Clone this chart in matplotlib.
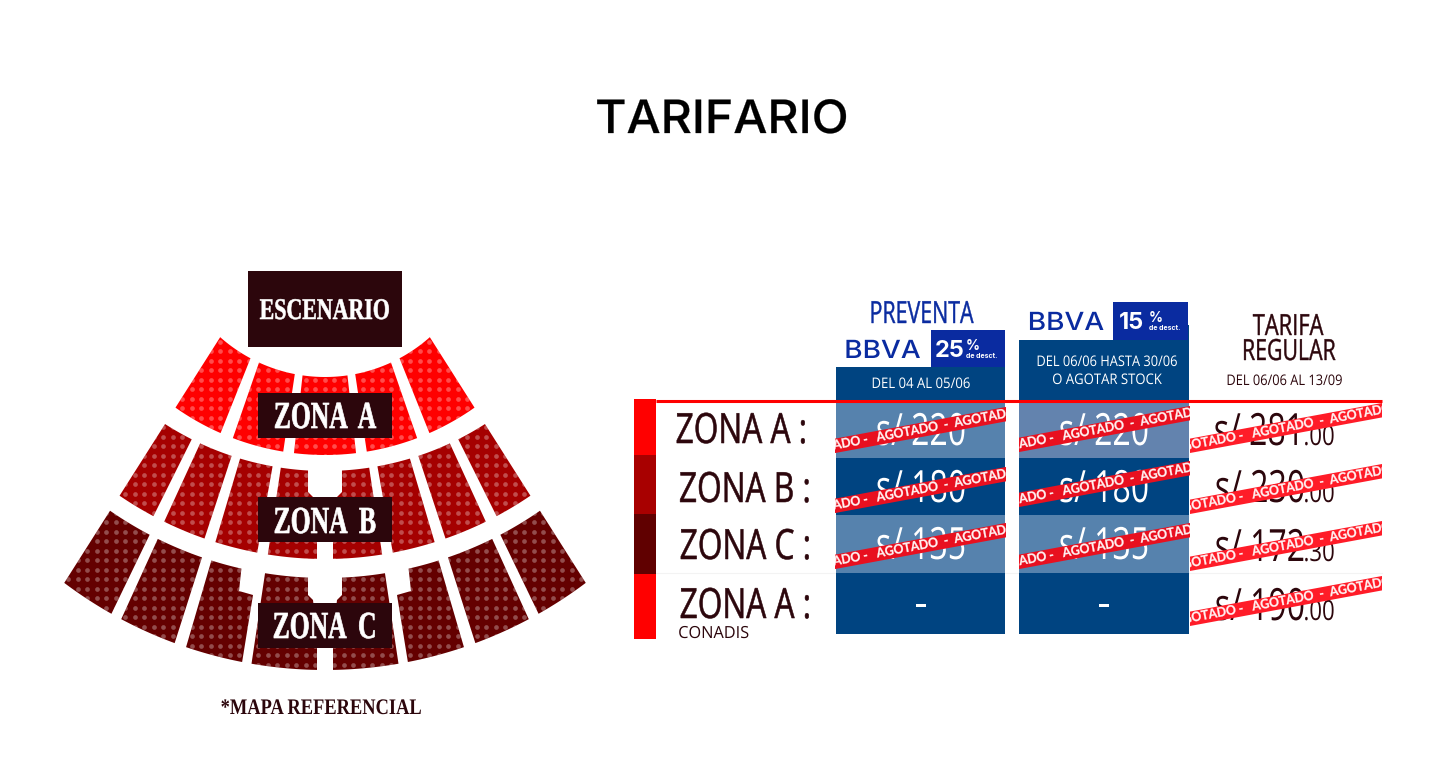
"""Tarifario: seating map on the left, price table on the right."""
import numpy as np
import matplotlib
matplotlib.use("Agg")
import matplotlib.pyplot as plt
from matplotlib.patches import Polygon, Rectangle
from matplotlib.patheffects import AbstractPathEffect
from matplotlib.transforms import Affine2D

# --- data ---
zone_names = ["ZONA  A", "ZONA  B", "ZONA  C"]
row_labels = ["ZONA A :", "ZONA B :", "ZONA C :", "ZONA A :"]
preventa_prices = ["s/ 220", "s/ 180", "s/ 135", "-"]
stock_prices = ["s/ 220", "s/ 180", "s/ 135", "-"]
regular_prices = ["s/ 281", "s/ 230", "s/ 172", "s/ 190"]
regular_cents = [".00", ".00", ".30", ".00"]
ribbon_short = "AGOTADO -   AGOTADO  -  AGOTADO"

# seat blocks left of the aisle, angles in degrees from the vertical
blocks_a = [(32.4, 21.8), (19.1, 8.5)]
blocks_b = [(32.4, 26.5), (24.7, 18.2), (16.5, 10.1)]
blocks_c = [(32.4, 25.8), (24.5, 17.7)]

DARK = "#2c060c"
BLUE = "#004481"
LIGHT_BLUE = "#5682ad"
BADGE = "#0a2ba0"
RED = "#ff0000"
MID_RED = "#a50000"
DEEP_RED = "#640000"
RIBBON = "#e8101f"
RIBBON_BRIGHT = "#ff1c28"

CX, FAN_Y = 325, 172
SANS = "Open Sans"
SERIF = "Liberation Serif"


class Squeeze(AbstractPathEffect):
    """Draw a text narrower or wider about its own middle, optionally fattened."""

    def __init__(self, sx, fat=0.0):
        super().__init__()
        self.sx = sx
        self.fat = fat

    def draw_path(self, renderer, gc, tpath, affine, rgbFace=None):
        ext = tpath.get_extents()
        mid = (ext.x0 + ext.x1) / 2
        squeeze = Affine2D().translate(-mid, 0).scale(self.sx, 1).translate(mid, 0)
        gc2 = renderer.new_gc()
        gc2.copy_properties(gc)
        if self.fat:
            gc2.set_linewidth(self.fat)
            gc2.set_foreground(rgbFace)
        renderer.draw_path(gc2, tpath, squeeze + affine, rgbFace)
        gc2.restore()


fig = plt.figure(figsize=(14.4, 7.81), dpi=100, facecolor="white")
ax = fig.add_axes([0, 0, 1, 1])
ax.set_xlim(0, 1440)
ax.set_ylim(781, 0)
ax.axis("off")


def label(x, y, s, size, color=DARK, sx=1.0, family=SANS, weight="normal", z=6, fat=0.0):
    t = ax.text(x, y, s, fontsize=size, color=color, family=family, weight=weight,
                ha="center", va="baseline", zorder=z)
    if sx != 1.0 or fat:
        t.set_path_effects([Squeeze(sx, fat)])
    return t


def rect(x0, y0, x1, y1, color, z=2):
    r = Rectangle((x0, y0), x1 - x0, y1 - y0, facecolor=color, edgecolor="none", zorder=z)
    ax.add_patch(r)
    return r


def circle_arc(mid_y, corner_x, corner_y):
    """Circle through the arc's middle and its outer corner."""
    dx = CX - corner_x
    cc = (mid_y ** 2 - corner_y ** 2 - dx ** 2) / (2 * (mid_y - corner_y))
    return cc, mid_y - cc


def arc_points(arc, a0, a1, n=14):
    cc, r = arc
    h = FAN_Y - cc
    a = np.deg2rad(np.linspace(a0, a1, n))
    t = -h * np.cos(a) + np.sqrt(h ** 2 * np.cos(a) ** 2 - h ** 2 + r ** 2)
    return np.column_stack([CX + t * np.sin(a), FAN_Y + t * np.cos(a)])


def half_angle(half, y):
    return np.degrees(np.arctan(half / (y - FAN_Y)))


def seat_block(points, color):
    patch = Polygon(points, closed=True, facecolor=color, edgecolor="none", zorder=2)
    ax.add_patch(patch)
    # same dot grid for all blocks
    x0, y0 = points.min(axis=0) - 5
    x1, y1 = points.max(axis=0) + 5
    gx = 220.3 + 9.5 * np.arange(np.ceil((x0 - 220.3) / 9.5), np.floor((x1 - 220.3) / 9.5) + 1)
    gy = 351.3 + 9.5 * np.arange(np.ceil((y0 - 351.3) / 9.5), np.floor((y1 - 351.3) / 9.5) + 1)
    xx, yy = np.meshgrid(gx, gy)
    dots = ax.scatter(xx.ravel(), yy.ravel(), s=11.5, color="white", alpha=0.3,
                      linewidths=0, zorder=3)
    dots.set_clip_path(patch)


def radial_block(top, bottom, outer, inner, side, color):
    a0, a1 = side * outer, side * inner
    seat_block(np.vstack([arc_points(top, a0, a1), arc_points(bottom, a1, a0)]), color)


def aisle_block(top, bottom, top_y, bottom_y, outer, step_y, side, color):
    """Innermost block, with the wider aisle at its top."""
    a_top = side * half_angle(17, top_y)
    a_bot = side * half_angle(8, bottom_y)
    notch = np.array([[CX + side * 17, step_y], [CX + side * 12, step_y + 5],
                      [CX + side * 8, step_y + 40]])
    pts = np.vstack([arc_points(top, side * outer, a_top), notch,
                     arc_points(bottom, a_bot, side * outer)])
    seat_block(pts, color)


# --- seating map ---
arc_a = circle_arc(377, 220, 337), circle_arc(455, 176, 408)
arc_b = circle_arc(471, 165, 424), circle_arc(559, 120, 496)
arc_c = circle_arc(578, 110, 510.7), circle_arc(670, 64, 582.7)

for side in (-1, 1):
    for outer, inner in blocks_a:
        radial_block(*arc_a, outer, inner, side, RED)
    for outer, inner in blocks_b:
        radial_block(*arc_b, outer, inner, side, MID_RED)
    aisle_block(*arc_b, 471, 559, 8.5, 492, side, MID_RED)
    for outer, inner in blocks_c:
        radial_block(*arc_c, outer, inner, side, DEEP_RED)
    aisle_block(*arc_c, 578, 670, 8.5, 595, side, DEEP_RED)

    # third block of zone C has a step cut out at the aisle side
    top_c, bot_c = arc_c
    stepped = np.vstack([
        arc_points(top_c, side * 16.3, side * 11.9),
        [[CX + side * 86, 591], [CX + side * 72, 595]],
        arc_points(bot_c, side * 9.6, side * 16.3),
    ])
    seat_block(stepped, DEEP_RED)

radial_block(*arc_a, 6.3, -6.3, 1, RED)

rect(248, 271, 402, 347, DARK, z=4)
label(325, 319, "ESCENARIO", 21.6, "white", 0.73, SERIF, "bold", fat=0.4)
for name, top, base in zip(zone_names, [393, 497, 603], [428, 533, 638]):
    rect(258, top, 392, top + 45, DARK, z=4)
    label(325, base, name, 27.5, "white", 0.67, SERIF, "bold", fat=0.5)
label(321.5, 714, "*MAPA REFERENCIAL", 16, DARK, 0.83, SERIF, "bold")

# --- title ---
label(722, 133, "TARIFARIO", 33, "black", 1.05, "Inter", "medium", fat=0.2)

# --- price table ---
row_edges = [400, 458, 515, 573, 634]
bar_edges = [399, 455, 514, 574, 639]
bar_colors = [RED, "#a80000", "#600000", RED]
label_x = [741.5, 745, 745.5, 745.5]
label_base = [443, 502, 559, 618]
price_base = [445, 502, 559, 618]
reg_base = [445, 502, 561, 620]

for i in range(4):
    rect(634, bar_edges[i], 656, bar_edges[i + 1], bar_colors[i])
    label(label_x[i], label_base[i], row_labels[i], 30, DARK, 0.76, fat=0.4)
label(713.5, 638, "CONADIS", 12, DARK, 0.98)
ax.plot([656, 1382], [573, 573], color="#f3f3f3", lw=0.8, zorder=1)

columns = [(836, 1005, 921, 341, preventa_prices), (1019, 1189, 1104, 325, stock_prices)]
row1_tint = [LIGHT_BLUE, "#6383ae"]
for (x0, x1, xc, head, prices), tint in zip(columns, row1_tint):
    rect(x0, head, x1, 400, BLUE)
    for i, color in enumerate([tint, BLUE, LIGHT_BLUE, BLUE]):
        rect(x0, row_edges[i], x1, row_edges[i + 1], color)
    for i, p in enumerate(prices):
        if p == "-":
            label(xc, 617, p, 30, "white", 0.9)
        else:
            label(xc, price_base[i], p, 32, "white", 0.72)

# bank headers
for x0, xs, x1, y0, y1, logo, pct, pct_x, sym_x, base in [
    (836, 931, 1005, 330, 367, 882.5, "25", 949.5, 973, 358),
    (1019, 1113, 1188, 302, 340, 1066, "15", 1132, 1156, 330),
]:
    rect(x0, y0, xs, y1, "white", z=3)
    rect(xs, y0, x1, y1, BADGE, z=3)
    label(logo, base, "BBVA", 18, BADGE, 1.12, "Inter", "medium")
    label(pct_x, base - 1, pct, 17, "white", 1.0, "Inter", "bold")
    label(sym_x, base - 8, "%", 10, "white", 1.0, "Inter", "bold")
    label(sym_x + 9, base, "de desct.", 5, "white", 1.0, "Inter", "bold")

label(921, 323, "PREVENTA", 22, BADGE, 0.7, fat=0.3)
label(921, 388, "DEL 04 AL 05/06", 10.5, "white", 0.9)
label(1107, 366, "DEL 06/06 HASTA 30/06", 10.5, "white", 0.88)
label(1107, 384, "O AGOTAR STOCK", 10.5, "white", 0.9)
label(1288, 335, "TARIFA", 21, DARK, 0.75, fat=0.3)
label(1288.5, 360, "REGULAR", 21, DARK, 0.73, fat=0.3)
label(1284.5, 385, "DEL 06/06 AL 13/09", 10.5, DARK, 0.88)

for i in range(4):
    label(1260, reg_base[i], regular_prices[i], 32, DARK, 0.72)
    label(1319, reg_base[i], regular_cents[i], 20, DARK, 0.8)

ax.plot([656, 1382], [400.5, 400.5], color=RED, lw=2.2, zorder=7, solid_capstyle="butt")


# --- sold-out ribbons ---
def ribbon(x0, x1, mid_y, color, text_dx, angle=10.5):
    clip = Rectangle((x0, 380), x1 - x0, 280, transform=ax.transData)
    xc = (x0 + x1) / 2
    slope = np.tan(np.deg2rad(angle))
    xs = np.array([x0 - 4, x1 + 4])
    line, = ax.plot(xs, mid_y - (xs - xc) * slope, color=color, lw=10.2, zorder=8,
                    solid_capstyle="butt")
    line.set_clip_path(clip)
    t = label(xc + text_dx, mid_y - text_dx * slope + 3.5, ribbon_short, 9.4, "#fff0f0", 0.94,
              "Lato", "bold", z=9, fat=0.2)
    t.set_rotation(angle)
    t.set_rotation_mode("anchor")
    t.set_clip_on(True)
    t.set_clip_path(clip)


for y in [430, 490, 546]:
    ribbon(835, 1006, y, RIBBON, -13)
for y in [429, 484, 546]:
    ribbon(1019, 1190, y, RIBBON, -11)
for y in [428, 489, 546, 601]:
    ribbon(1190, 1382, y, RIBBON_BRIGHT, -3)

fig.savefig("out.png", dpi=100, facecolor="white")
